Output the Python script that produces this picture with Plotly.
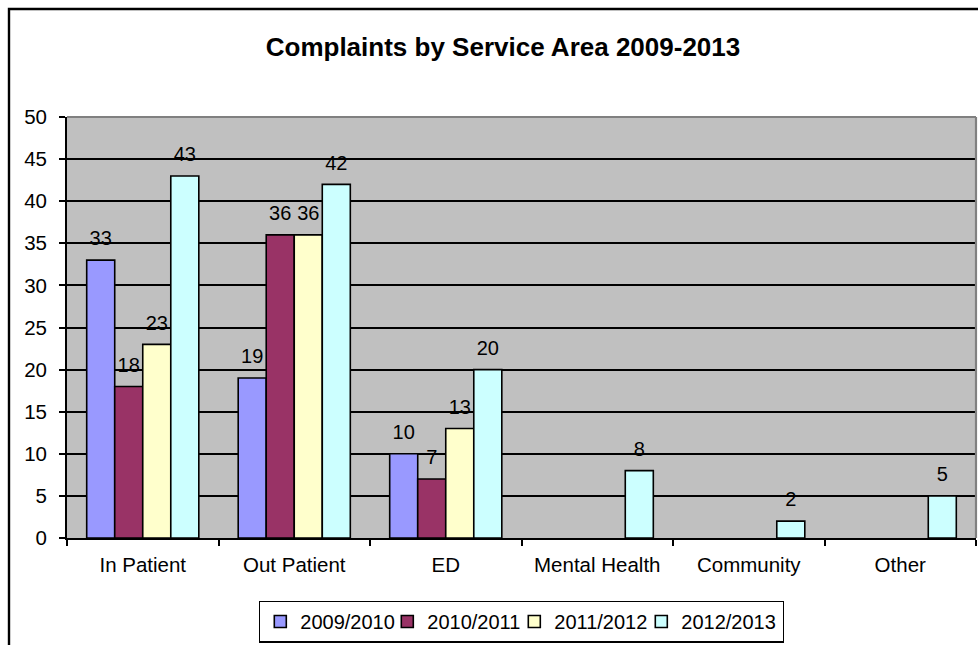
import plotly.graph_objects as go

categories = ["In Patient", "Out Patient", "ED", "Mental Health", "Community", "Other"]
series_names = ["2009/2010", "2010/2011", "2011/2012", "2012/2013"]
v_2009_2010 = [33, 19, 10, None, None, None]
v_2010_2011 = [18, 36, 7, None, None, None]
v_2011_2012 = [23, 36, 13, None, None, None]
v_2012_2013 = [43, 42, 20, 8, 2, 5]
y_ticks = [0, 5, 10, 15, 20, 25, 30, 35, 40, 45, 50]

series_values = [v_2009_2010, v_2010_2011, v_2011_2012, v_2012_2013]
colors = ["#9999FF", "#993366", "#FFFFCC", "#CCFFFF"]
legend_widths = [82, 82, 82, 96]

FONT = "Liberation Sans, Arial, sans-serif"

fig = go.Figure()
for name, vals, col, lw in zip(series_names, series_values, colors, legend_widths):
    fig.add_trace(go.Bar(
        x=categories, y=vals, name=name,
        marker=dict(color=col, line=dict(color="black", width=1.6)),
        legendwidth=lw,
        hoverinfo="skip",
    ))
for name, vals in zip(series_names, series_values):
    fig.add_trace(go.Scatter(
        x=categories, y=vals, mode="markers+text",
        text=[("" if v is None else str(v)) for v in vals],
        textposition="top center",
        textfont=dict(family=FONT, size=20, color="black"),
        marker=dict(size=14, color="rgba(0,0,0,0)"),
        showlegend=False, hoverinfo="skip", cliponaxis=False,
    ))

fig.update_layout(
    width=978, height=645,
    margin=dict(l=67, r=2, t=117, b=107),
    paper_bgcolor="white",
    plot_bgcolor="#C0C0C0",
    barmode="group", bargap=0.26, bargroupgap=0,
    scattermode="group", scattergap=0.26,
    font=dict(family=FONT, size=20, color="black"),
    title=dict(
        text="<b>Complaints by Service Area 2009-2013</b>",
        font=dict(family=FONT, size=26, color="black"),
        x=503 / 978, xref="container", xanchor="center",
        y=1 - 47 / 645, yref="container", yanchor="middle",
    ),
    legend=dict(
        orientation="h", x=0.5, xanchor="center", y=-0.149, yanchor="top",
        bordercolor="black", borderwidth=1.3,
        font=dict(family=FONT, size=20, color="black"),
        bgcolor="white",
    ),
    showlegend=True,
    xaxis=dict(
        type="category",
        showline=True, linecolor="black", linewidth=1.8,
        ticks="outside", tickson="boundaries", ticklen=6, tickcolor="black", tickwidth=1.6,
        showgrid=False, tickfont=dict(size=20.5), ticklabelstandoff=7,
    ),
    yaxis=dict(
        range=[0, 50], tickvals=y_ticks,
        showline=True, linecolor="black", linewidth=1.8,
        ticks="outside", ticklen=6, tickcolor="black", tickwidth=1.6,
        showgrid=True, gridcolor="black", gridwidth=1.7,
        zeroline=False, tickfont=dict(size=20.5), ticklabelstandoff=8,
    ),
    shapes=[
        dict(type="line", xref="paper", yref="paper", x0=0, x1=1, y0=1, y1=1,
             line=dict(color="#808080", width=2.2), layer="above"),
        dict(type="line", xref="paper", yref="paper", x0=1, x1=1, y0=0, y1=1,
             line=dict(color="#808080", width=2.2), layer="above"),
        dict(type="rect", xref="paper", yref="paper",
             x0=(9 - 67) / 909, x1=1.2, y0=(538 - 660) / 421, y1=(538 - 9) / 421,
             line=dict(color="black", width=2.4), fillcolor="rgba(0,0,0,0)", layer="above"),
    ],
)

fig.write_html(
    "out.html",
    config={"displayModeBar": False},
    post_script="document.body.style.margin='0';document.body.style.padding='0';",
)
